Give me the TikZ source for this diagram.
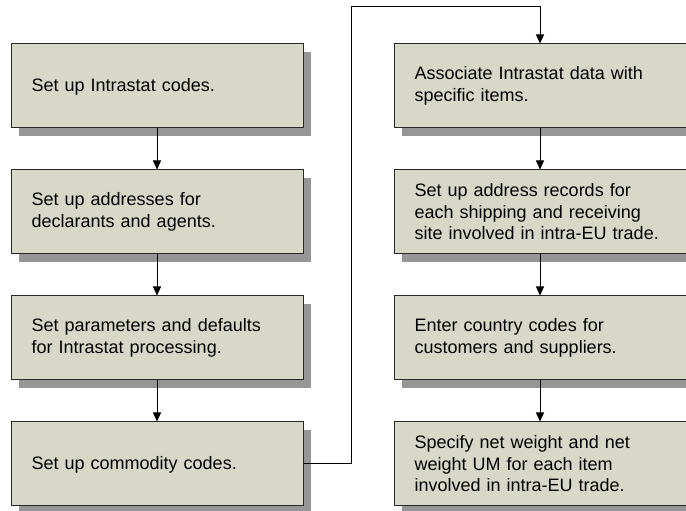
\documentclass[tikz,border=0pt]{standalone}
\usepackage{fontspec}
\setmainfont{Liberation Sans}
\usetikzlibrary{arrows.meta,shadows}
\definecolor{boxfill}{RGB}{215,216,200}
\definecolor{shadowgray}{RGB}{150,150,150}
\definecolor{edge}{RGB}{40,40,40}
\tikzset{
  stepbox/.style={draw=edge, line width=1pt, fill=boxfill, minimum width=292pt, minimum height=84pt, inner sep=0pt,
    general shadow={fill=shadowgray, shadow xshift=8pt, shadow yshift=-8pt}},
  steptext/.style={anchor=west, text width=268pt, align=left, inner sep=0pt, font=\fontsize{18pt}{21.5pt}\selectfont},
  flow/.style={draw=black, line width=1pt, -{Triangle[width=8pt,length=9pt]}}
}
\begin{document}
\begin{tikzpicture}[x=1pt,y=1pt]
\useasboundingbox (0,0) rectangle (686,511);
% left column
\node[stepbox] (L1) at (157,425) {};
\node[stepbox] (L2) at (157,299) {};
\node[stepbox] (L3) at (157,173) {};
\node[stepbox] (L4) at (157,47) {};
% right column
\node[stepbox] (R1) at (540,425) {};
\node[stepbox] (R2) at (540,299) {};
\node[stepbox] (R3) at (540,173) {};
\node[stepbox] (R4) at (540,47) {};
% texts
\node[steptext] (L1t) at ([xshift=21pt,yshift=-1pt]L1.west) {Set up Intrastat codes.};
\node[steptext] (L2t) at ([xshift=21pt]L2.west) {Set up addresses for\\declarants and agents.};
\node[steptext] (L3t) at ([xshift=21pt]L3.west) {Set parameters and defaults\\for Intrastat processing.};
\node[steptext] (L4t) at ([xshift=21pt,yshift=-1pt]L4.west) {Set up commodity codes.};
\node[steptext] (R1t) at ([xshift=21pt]R1.west) {Associate Intrastat data with\\specific items.};
\node[steptext] (R2t) at ([xshift=21pt]R2.west) {Set up address records for\\each shipping and receiving\\site involved in intra-EU trade.};
\node[steptext] (R3t) at ([xshift=21pt]R3.west) {Enter country codes for\\customers and suppliers.};
\node[steptext] (R4t) at ([xshift=21pt]R4.west) {Specify net weight and net\\weight UM for each item\\involved in intra-EU trade.};
% connectors
\draw[flow] (L1.south) -- (L2.north);
\draw[flow] (L2.south) -- (L3.north);
\draw[flow] (L3.south) -- (L4.north);
\draw[flow] (R1.south) -- (R2.north);
\draw[flow] (R2.south) -- (R3.north);
\draw[flow] (R3.south) -- (R4.north);
\coordinate (top) at (351,504);
\draw[flow] (L4.east) -| (top) -| (R1.north);
\end{tikzpicture}
\end{document}
